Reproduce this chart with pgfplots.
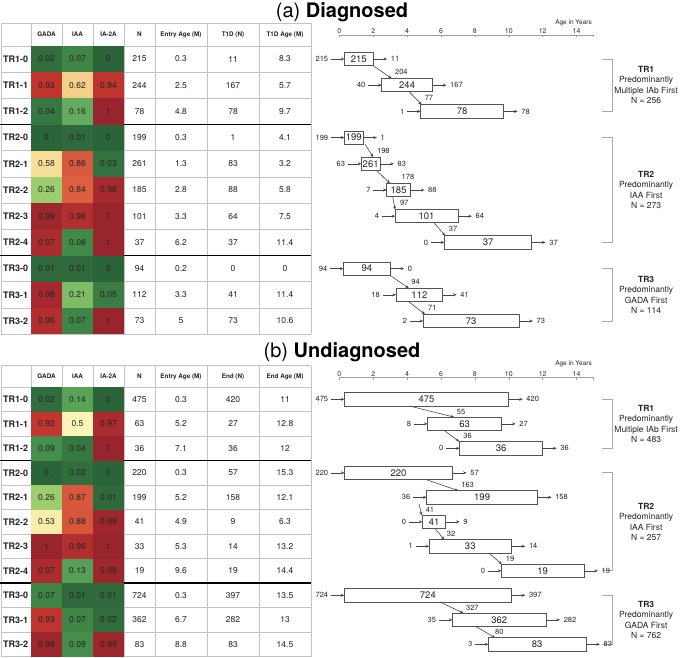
\documentclass[border=0pt]{standalone}
\usepackage{pgfplots}
\pgfplotsset{compat=1.18}
\usepackage{pgfplotstable}
\usepackage{fontspec}
\setmainfont{TeX Gyre Heros}
\usetikzlibrary{arrows.meta}
\newcommand\fs[1]{\fontsize{#1}{#1}\selectfont}
\definecolor{gridc}{RGB}{195,195,195}
\definecolor{boxc}{RGB}{85,85,85}
\definecolor{arrc}{RGB}{70,70,70}
\definecolor{txtc}{RGB}{35,35,35}
\definecolor{brc}{RGB}{170,170,170}
\pgfdeclareplotmark{cellA}{\pgfpathrectangle{\pgfpoint{-15.5pt}{-13.1pt}}{\pgfpoint{31pt}{26.2pt}}\pgfusepathqfill}
\pgfdeclareplotmark{cellB}{\pgfpathrectangle{\pgfpoint{-15.5pt}{-12.25pt}}{\pgfpoint{31pt}{24.5pt}}\pgfusepathqfill}
\pgfplotsset{
  colormap={heat}{rgb255(0pt)=(44,100,58); rgb255(8pt)=(66,138,72); rgb255(16pt)=(100,170,95); rgb255(26pt)=(156,205,110); rgb255(50pt)=(250,245,182); rgb255(60pt)=(246,218,146); rgb255(80pt)=(224,104,68); rgb255(88pt)=(214,86,60); rgb255(91pt)=(194,56,47); rgb255(94pt)=(190,52,46); rgb255(100pt)=(152,36,46)},
  full/.style={at={(0,0)}, anchor=south west, width=685pt, height=657pt, scale only axis, hide axis, clip=false, y dir=reverse},
  txt/.style={draw=none, mark=none, nodes near coords, point meta=explicit symbolic},
  yrs/.style={anchor=north west, width=254.25pt, height=4pt, scale only axis, xmin=0, xmax=15, ymin=0, ymax=1,
    axis y line=none, axis x line*=top, xtick={0,2,...,14}, extra x ticks={15}, extra x tick labels={},
    tick align=inside, major tick length=2.5pt, axis line style={gray!75, line width=0.6pt},
    tick style={gray!75, line width=0.5pt}, xticklabel style={font=\fs{7}, inner sep=1pt, text=black!80},
    /pgf/number format/assume math mode=true},
}

% ---------- data: panel (a) ----------
\pgfplotstableread{
r lab gada iaa iab n entry endn endage
0 TR1-0 0.02 0.07 0 215 0.3 11 8.3
1 TR1-1 0.93 0.62 0.94 244 2.5 167 5.7
2 TR1-2 0.04 0.16 1 78 4.8 78 9.7
3 TR2-0 0 0.01 0 199 0.3 1 4.1
4 TR2-1 0.58 0.86 0.03 261 1.3 83 3.2
5 TR2-2 0.26 0.84 0.98 185 2.8 88 5.8
6 TR2-3 0.99 0.96 1 101 3.3 64 7.5
7 TR2-4 0.97 0.08 1 37 6.2 37 11.4
8 TR3-0 0.01 0.01 0 94 0.2 0 0
9 TR3-1 0.98 0.21 0.05 112 3.3 41 11.4
10 TR3-2 0.96 0.07 1 73 5 73 10.6
}\tabA
\pgfplotstableread{
r s e n in out
0 0.3 2.0 215 215 11
1 2.5 5.5 244 40 167
2 4.8 9.7 78 1 78
3 0.3 1.4 199 199 1
4 1.3 2.4 261 63 83
5 2.8 4.2 185 7 88
6 3.3 7.0 101 4 64
7 6.2 11.35 37 0 37
8 0.25 3.0 94 94 0
9 3.35 6.1 112 18 41
10 4.95 10.6 73 2 73
}\boxA
\pgfplotstableread{
r x0 x1 lab lx
0 2.0 3.09 204 3.66
1 4.13 4.86 77 5.29
3 1.52 2.0 198 2.6
4 2.2 2.99 178 4.05
5 3.15 3.29 97 3.83
6 5.6 6.24 37 6.71
8 2.99 4.1 94 4.5
9 4.07 5.06 71 5.49
}\trA

% ---------- data: panel (b) ----------
\pgfplotstableread{
r lab gada iaa iab n entry endn endage
0 TR1-0 0.02 0.14 0 475 0.3 420 11
1 TR1-1 0.92 0.5 0.97 63 5.2 27 12.8
2 TR1-2 0.09 0.04 1 36 7.1 36 12
3 TR2-0 0 0.02 0 220 0.3 57 15.3
4 TR2-1 0.26 0.87 0.01 199 5.2 158 12.1
5 TR2-2 0.53 0.88 0.99 41 4.9 9 6.3
6 TR2-3 1 0.96 1 33 5.3 14 13.2
7 TR2-4 0.97 0.13 0.99 19 9.6 19 14.4
8 TR3-0 0.07 0.01 0.01 724 0.3 397 13.5
9 TR3-1 0.93 0.07 0.02 362 6.7 282 13
10 TR3-2 0.99 0.09 0.99 83 8.8 83 14.5
}\tabB
\pgfplotstableread{
r s e n in out
0 0.3 10.0 475 475 420
1 5.2 9.58 63 8 27
2 7.1 12.0 36 0 36
3 0.3 6.69 220 220 57
4 5.15 11.7 199 36 158
5 4.9 6.28 41 0 9
6 5.3 10.15 33 1 14
7 9.56 14.44 19 0 19
8 0.3 10.15 724 724 397
9 6.67 12.2 362 35 282
10 8.8 14.55 83 3 83
}\boxB
\pgfplotstableread{
r x0 x1 lab lx
0 4.13 6.78 55 7.18
1 6.19 7.08 36 7.57
3 5.1 7.02 163 7.57
4 4.7 4.86 41 5.35
5 5.65 6.19 32 6.59
6 8.83 9.58 19 10.07
8 5.94 7.32 327 7.85
9 8.05 9.19 80 9.44
}\trB

\begin{document}
\begin{tikzpicture}
\useasboundingbox (0,0) rectangle (685pt,657pt);

% ================= PANEL (a) : table =================
\begin{axis}[full, xmin=0, xmax=685, ymin=-2.2519, ymax=22.8244,
  colormap name=heat, point meta min=0, point meta max=1]
\addplot[scatter, only marks, scatter src=explicit, mark=cellA] table[x expr=46.5, y=r, meta=gada] \tabA;
\addplot[scatter, only marks, scatter src=explicit, mark=cellA] table[x expr=77.5, y=r, meta=iaa] \tabA;
\addplot[scatter, only marks, scatter src=explicit, mark=cellA] table[x expr=108.5, y=r, meta=iab] \tabA;
\pgfplotsinvokeforeach{1,31,62,93,124,155,207,259,311}{
  \draw[gridc, line width=0.6pt] (axis cs:#1,-1.374) -- (axis cs:#1,10.5);
}
\pgfplotsinvokeforeach{-1.374,-0.5,0.5,1.5,3.5,4.5,5.5,6.5,8.5,9.5,10.5}{
  \draw[gridc, line width=0.6pt] (axis cs:1,#1) -- (axis cs:311,#1);
}
\draw[black, line width=1.3pt] (axis cs:0,2.5) -- (axis cs:311,2.5);
\draw[black, line width=1.3pt] (axis cs:0,7.5) -- (axis cs:311,7.5);
\addplot[txt, nodes near coords style={font=\bfseries\fs{9}, anchor=west, inner sep=0pt, text=txtc}] table[x expr=3, y=r, meta=lab] \tabA;
\addplot[txt, nodes near coords style={font=\fs{8.5}, anchor=center, inner sep=0pt, text=txtc}] table[x expr=46.5, y=r, meta=gada] \tabA;
\addplot[txt, nodes near coords style={font=\fs{8.5}, anchor=center, inner sep=0pt, text=txtc}] table[x expr=77.5, y=r, meta=iaa] \tabA;
\addplot[txt, nodes near coords style={font=\fs{8.5}, anchor=center, inner sep=0pt, text=txtc}] table[x expr=108.5, y=r, meta=iab] \tabA;
\addplot[txt, nodes near coords style={font=\fs{8.5}, anchor=center, inner sep=0pt, text=txtc}] table[x expr=139.5, y=r, meta=n] \tabA;
\addplot[txt, nodes near coords style={font=\fs{8.5}, anchor=center, inner sep=0pt, text=txtc}] table[x expr=181, y=r, meta=entry] \tabA;
\addplot[txt, nodes near coords style={font=\fs{8.5}, anchor=center, inner sep=0pt, text=txtc}] table[x expr=233, y=r, meta=endn] \tabA;
\addplot[txt, nodes near coords style={font=\fs{8.5}, anchor=center, inner sep=0pt, text=txtc}] table[x expr=285, y=r, meta=endage] \tabA;
\begin{scope}[every node/.style={font=\bfseries\fs{6.3}, text=txtc}]
\node at (axis cs:46.5,-0.935) {GADA};
\node at (axis cs:77.5,-0.935) {IAA};
\node at (axis cs:108.5,-0.935) {IA-2A};
\node at (axis cs:139.5,-0.935) {N};
\node at (axis cs:181,-0.935) {Entry Age (M)};
\node at (axis cs:233,-0.935) {T1D (N)};
\node at (axis cs:285,-0.935) {T1D Age (M)};
\end{scope}
\node[font=\fs{20}] at (axis cs:342,-1.794) {(a) \textbf{Diagnosed}};
\end{axis}

% ================= PANEL (a) : boxes =================
\begin{axis}[full, xmin=-20.018, xmax=20.395, ymin=-2.2519, ymax=22.8244, xbar stacked, bar width=0.508]
\addplot[draw=none, fill=none] table[x=s, y=r] \boxA;
\addplot[draw=boxc, fill=white, line width=0.8pt] table[x expr=\thisrow{e}-\thisrow{s}, y=r] \boxA;
\end{axis}

% ================= PANEL (a) : arrows and labels =================
\begin{axis}[full, xmin=-20.018, xmax=20.395, ymin=-2.2519, ymax=22.8244]
\addplot[arrc, line width=0.6pt, quiver={u=0.8, v=0}, -{Stealth[length=3.5pt, width=3pt]}] table[x expr=\thisrow{s}-0.8, y=r] \boxA;
\addplot[arrc, line width=0.6pt, quiver={u=0.82, v=0}, -{Stealth[length=3.5pt, width=3pt]}] table[x=e, y=r] \boxA;
\addplot[arrc, line width=0.6pt, quiver={u=\thisrow{x1}-\thisrow{x0}, v=0.492}, -{Stealth[length=3.5pt, width=3pt]}] table[x=x0, y expr=\thisrow{r}+0.254] \trA;
\addplot[txt, nodes near coords style={font=\fs{7.5}, anchor=east, inner sep=0.5pt, text=txtc}] table[x expr=\thisrow{s}-0.92, y=r, meta=in] \boxA;
\addplot[txt, nodes near coords style={font=\fs{7.5}, anchor=west, inner sep=0.5pt, text=txtc}] table[x expr=\thisrow{e}+1.0, y=r, meta=out] \boxA;
\addplot[txt, nodes near coords style={font=\fs{9.5}, anchor=center, inner sep=0pt, text=txtc}] table[x expr=(\thisrow{s}+\thisrow{e})/2, y=r, meta=n] \boxA;
\addplot[txt, nodes near coords style={font=\fs{7.5}, anchor=center, inner sep=0pt, text=txtc}] table[x=lx, y expr=\thisrow{r}+0.5, meta=lab] \trA;
\node[font=\fs{6.5}, text=txtc] at (axis cs:13.82,-1.363) {Age in Years};
\draw[brc, line width=0.8pt] (axis cs:15.5,0) -- (axis cs:16.09,0) -- (axis cs:16.09,2) -- (axis cs:15.5,2);
\draw[brc, line width=0.8pt] (axis cs:15.5,3) -- (axis cs:16.09,3) -- (axis cs:16.09,7) -- (axis cs:15.5,7);
\draw[brc, line width=0.8pt] (axis cs:15.5,8) -- (axis cs:16.09,8) -- (axis cs:16.09,10) -- (axis cs:15.5,10);
\begin{scope}[every node/.style={align=center, font=\fontsize{8.5}{10.5}\selectfont, text=txtc}]
\node at (axis cs:18.1,1) {\textbf{TR1}\\Predominantly\\Multiple IAb First\\N = 256};
\node at (axis cs:18.1,5) {\textbf{TR2}\\Predominantly\\IAA First\\N = 273};
\node at (axis cs:18.1,9) {\textbf{TR3}\\Predominantly\\GADA First\\N = 114};
\end{scope}
\end{axis}

\begin{axis}[yrs, at={(339.3pt,622pt)}]
\end{axis}

% ================= PANEL (b) : table =================
\begin{axis}[full, xmin=0, xmax=685, ymin=-16.298, ymax=10.518,
  colormap name=heat, point meta min=0, point meta max=1]
\addplot[scatter, only marks, scatter src=explicit, mark=cellB] table[x expr=46.5, y=r, meta=gada] \tabB;
\addplot[scatter, only marks, scatter src=explicit, mark=cellB] table[x expr=77.5, y=r, meta=iaa] \tabB;
\addplot[scatter, only marks, scatter src=explicit, mark=cellB] table[x expr=108.5, y=r, meta=iab] \tabB;
\pgfplotsinvokeforeach{1,31,62,93,124,155,207,259,311}{
  \draw[gridc, line width=0.6pt] (axis cs:#1,-1.371) -- (axis cs:#1,10.5);
}
\pgfplotsinvokeforeach{-1.371,-0.5,0.5,1.5,3.5,4.5,5.5,6.5,8.5,9.5,10.5}{
  \draw[gridc, line width=0.6pt] (axis cs:1,#1) -- (axis cs:311,#1);
}
\draw[black, line width=1.3pt] (axis cs:0,2.5) -- (axis cs:311,2.5);
\draw[black, line width=1.3pt] (axis cs:0,7.5) -- (axis cs:311,7.5);
\addplot[txt, nodes near coords style={font=\bfseries\fs{9}, anchor=west, inner sep=0pt, text=txtc}] table[x expr=3, y=r, meta=lab] \tabB;
\addplot[txt, nodes near coords style={font=\fs{8.5}, anchor=center, inner sep=0pt, text=txtc}] table[x expr=46.5, y=r, meta=gada] \tabB;
\addplot[txt, nodes near coords style={font=\fs{8.5}, anchor=center, inner sep=0pt, text=txtc}] table[x expr=77.5, y=r, meta=iaa] \tabB;
\addplot[txt, nodes near coords style={font=\fs{8.5}, anchor=center, inner sep=0pt, text=txtc}] table[x expr=108.5, y=r, meta=iab] \tabB;
\addplot[txt, nodes near coords style={font=\fs{8.5}, anchor=center, inner sep=0pt, text=txtc}] table[x expr=139.5, y=r, meta=n] \tabB;
\addplot[txt, nodes near coords style={font=\fs{8.5}, anchor=center, inner sep=0pt, text=txtc}] table[x expr=181, y=r, meta=entry] \tabB;
\addplot[txt, nodes near coords style={font=\fs{8.5}, anchor=center, inner sep=0pt, text=txtc}] table[x expr=233, y=r, meta=endn] \tabB;
\addplot[txt, nodes near coords style={font=\fs{8.5}, anchor=center, inner sep=0pt, text=txtc}] table[x expr=285, y=r, meta=endage] \tabB;
\begin{scope}[every node/.style={font=\bfseries\fs{6.3}, text=txtc}]
\node at (axis cs:46.5,-0.935) {GADA};
\node at (axis cs:77.5,-0.935) {IAA};
\node at (axis cs:108.5,-0.935) {IA-2A};
\node at (axis cs:139.5,-0.935) {N};
\node at (axis cs:181,-0.935) {Entry Age (M)};
\node at (axis cs:233,-0.935) {End (N)};
\node at (axis cs:285,-0.935) {End Age (M)};
\end{scope}
\node[font=\fs{20}] at (axis cs:342,-1.93) {(b) \textbf{Undiagnosed}};
\end{axis}

% ================= PANEL (b) : boxes =================
\begin{axis}[full, xmin=-20.018, xmax=20.395, ymin=-16.298, ymax=10.518, xbar stacked, bar width=0.543]
\addplot[draw=none, fill=none] table[x=s, y=r] \boxB;
\addplot[draw=boxc, fill=white, line width=0.8pt] table[x expr=\thisrow{e}-\thisrow{s}, y=r] \boxB;
\end{axis}

% ================= PANEL (b) : arrows and labels =================
\begin{axis}[full, xmin=-20.018, xmax=20.395, ymin=-16.298, ymax=10.518]
\addplot[arrc, line width=0.6pt, quiver={u=0.8, v=0}, -{Stealth[length=3.5pt, width=3pt]}] table[x expr=\thisrow{s}-0.8, y=r] \boxB;
\addplot[arrc, line width=0.6pt, quiver={u=0.82, v=0}, -{Stealth[length=3.5pt, width=3pt]}] table[x=e, y=r] \boxB;
\addplot[arrc, line width=0.6pt, quiver={u=\thisrow{x1}-\thisrow{x0}, v=0.458}, -{Stealth[length=3.5pt, width=3pt]}] table[x=x0, y expr=\thisrow{r}+0.271] \trB;
\addplot[txt, nodes near coords style={font=\fs{7.5}, anchor=east, inner sep=0.5pt, text=txtc}] table[x expr=\thisrow{s}-0.92, y=r, meta=in] \boxB;
\addplot[txt, nodes near coords style={font=\fs{7.5}, anchor=west, inner sep=0.5pt, text=txtc}] table[x expr=\thisrow{e}+1.0, y=r, meta=out] \boxB;
\addplot[txt, nodes near coords style={font=\fs{9.5}, anchor=center, inner sep=0pt, text=txtc}] table[x expr=(\thisrow{s}+\thisrow{e})/2, y=r, meta=n] \boxB;
\addplot[txt, nodes near coords style={font=\fs{7.5}, anchor=center, inner sep=0pt, text=txtc}] table[x=lx, y expr=\thisrow{r}+0.5, meta=lab] \trB;
\node[font=\fs{6.5}, text=txtc] at (axis cs:13.82,-1.441) {Age in Years};
\draw[brc, line width=0.8pt] (axis cs:15.5,0) -- (axis cs:16.09,0) -- (axis cs:16.09,2) -- (axis cs:15.5,2);
\draw[brc, line width=0.8pt] (axis cs:15.5,3) -- (axis cs:16.09,3) -- (axis cs:16.09,7) -- (axis cs:15.5,7);
\draw[brc, line width=0.8pt] (axis cs:15.5,8) -- (axis cs:16.09,8) -- (axis cs:16.09,10) -- (axis cs:15.5,10);
\begin{scope}[every node/.style={align=center, font=\fontsize{8.5}{10.5}\selectfont, text=txtc}]
\node at (axis cs:18.1,1) {\textbf{TR1}\\Predominantly\\Multiple IAb First\\N = 483};
\node at (axis cs:18.1,5) {\textbf{TR2}\\Predominantly\\IAA First\\N = 257};
\node at (axis cs:18.1,9) {\textbf{TR3}\\Predominantly\\GADA First\\N = 762};
\end{scope}
\end{axis}

\begin{axis}[yrs, at={(339.3pt,279.3pt)}]
\end{axis}

\end{tikzpicture}
\end{document}
